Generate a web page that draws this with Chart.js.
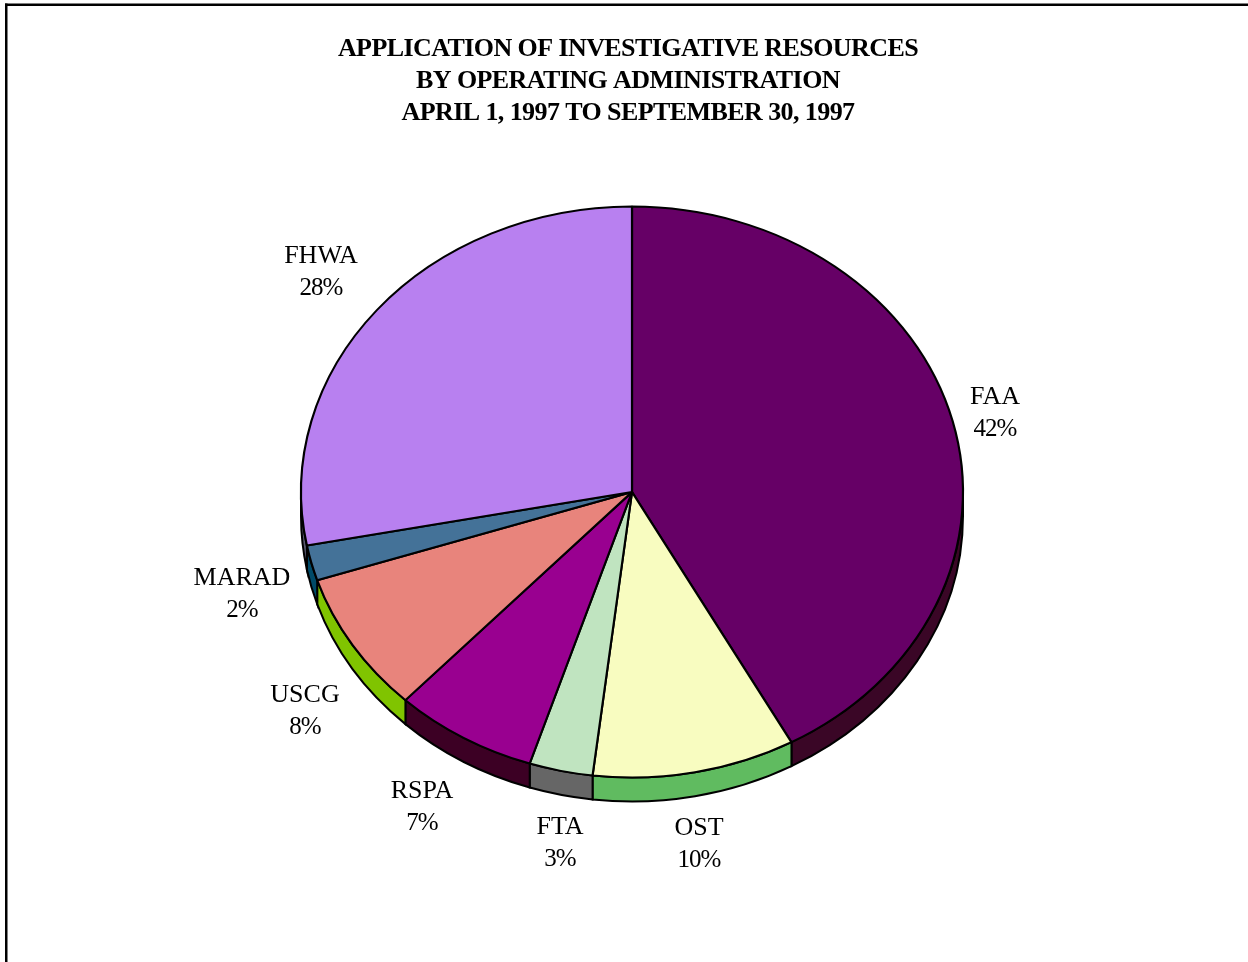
<!DOCTYPE html>
<html>
<head>
<meta charset="utf-8">
<title>Application of investigative resources</title>
<script src="https://cdn.jsdelivr.net/npm/chart.js@4"></script>
<style>
  html, body { margin: 0; padding: 0; background: #fff; overflow: hidden; }
  #wrap { position: relative; width: 1248px; height: 962px; }
</style>
</head>
<body>
<div id="wrap"><canvas id="graficoPie" width="1248" height="962"></canvas></div>
<script>
const categorias = ["FAA", "OST", "FTA", "RSPA", "USCG", "MARAD", "FHWA"];
const valores = [42, 9.9, 3.1, 7, 8, 2, 28];
const titulo = [
    "APPLICATION OF INVESTIGATIVE RESOURCES",
    "BY OPERATING ADMINISTRATION",
    "APRIL 1, 1997 TO SEPTEMBER 30, 1997"
];
const coloresCara = ["#660066", "#f8fcc0", "#c0e4c0", "#990090", "#e8847c", "#447298", "#b880f0"];
const coloresLado = ["#3a0626", "#60bb60", "#666666", "#3c0024", "#80c400", "#004a68", "#5a5a70"];

const FUENTE = "'Liberation Serif', 'Times New Roman', serif";
const CX = 632, CY = 492, RX = 331, RY = 285.5, PROFUNDIDAD = 24;

// centre of the first line of each label
const posEtiquetas = [
    [995, 397], [699, 828], [560, 827], [422, 791], [305, 695], [242, 578], [321, 256]
];

// frame of the page
const pluginMarco = {
    id: "marco",
    beforeDraw(chart) {
        const ctx = chart.ctx;
        ctx.save();
        ctx.fillStyle = "#fff";
        ctx.fillRect(0, 0, chart.width, chart.height);
        ctx.fillStyle = "#000";
        ctx.fillRect(5, 3.5, chart.width - 5, 2.5);
        ctx.fillRect(5, 3.5, 2.5, chart.height - 3.5);
        ctx.restore();
        // the title of the reference is set tighter than the font
        ctx.letterSpacing = "-0.58px";
    }
};

// pie squashed into an ellipse with a side wall below it
const pluginElipse = {
    id: "elipse",
    beforeDatasetsDraw(chart) {
        const ctx = chart.ctx;
        const arcos = chart.getDatasetMeta(0).data;
        ctx.letterSpacing = "0px";

        ctx.save();
        ctx.lineWidth = 2;
        ctx.strokeStyle = "#000";
        arcos.forEach((arco, i) => {
            const ini = Math.max(arco.startAngle, 0);
            const fin = Math.min(arco.endAngle, Math.PI);
            if (fin <= ini) {
                return;
            }
            ctx.beginPath();
            ctx.ellipse(CX, CY, RX, RY, 0, ini, fin);
            ctx.ellipse(CX, CY + PROFUNDIDAD, RX, RY, 0, fin, ini, true);
            ctx.closePath();
            ctx.fillStyle = coloresLado[i];
            ctx.fill();
            ctx.stroke();
        });
        ctx.restore();

        const a = arcos[0];
        ctx.save();
        ctx.translate(CX, CY);
        ctx.scale(1, RY / RX);
        ctx.translate(-a.x, -a.y);
    },
    afterDatasetsDraw(chart) {
        chart.ctx.restore();
    },
    afterDraw(chart) {
        const ctx = chart.ctx;
        ctx.save();
        ctx.fillStyle = "#000";
        ctx.textAlign = "center";
        ctx.textBaseline = "middle";
        categorias.forEach((nombre, i) => {
            const [x, y] = posEtiquetas[i];
            ctx.letterSpacing = "0px";
            ctx.font = "26px " + FUENTE;
            ctx.fillText(nombre, x, y);
            ctx.letterSpacing = "-1px";
            ctx.font = "25px " + FUENTE;
            ctx.fillText(Math.round(valores[i]) + "%", x, y + 32);
        });
        ctx.restore();
    }
};

new Chart(document.getElementById("graficoPie"), {
    type: "pie",
    data: {
        labels: categorias,
        datasets: [{
            data: valores,
            backgroundColor: coloresCara,
            borderColor: "#000",
            borderWidth: 2.2,
            clip: false
        }]
    },
    options: {
        responsive: false,
        animation: false,
        radius: RX,
        events: [],
        layout: { padding: { left: 8, top: 0 } },
        plugins: {
            legend: { display: false },
            tooltip: { enabled: false },
            title: {
                display: true,
                text: titulo,
                color: "#000",
                font: { family: FUENTE, size: 26, weight: "bold", lineHeight: 1.23 },
                padding: { top: 33, bottom: 10 }
            }
        }
    },
    plugins: [pluginMarco, pluginElipse]
});
</script>
</body>
</html>
